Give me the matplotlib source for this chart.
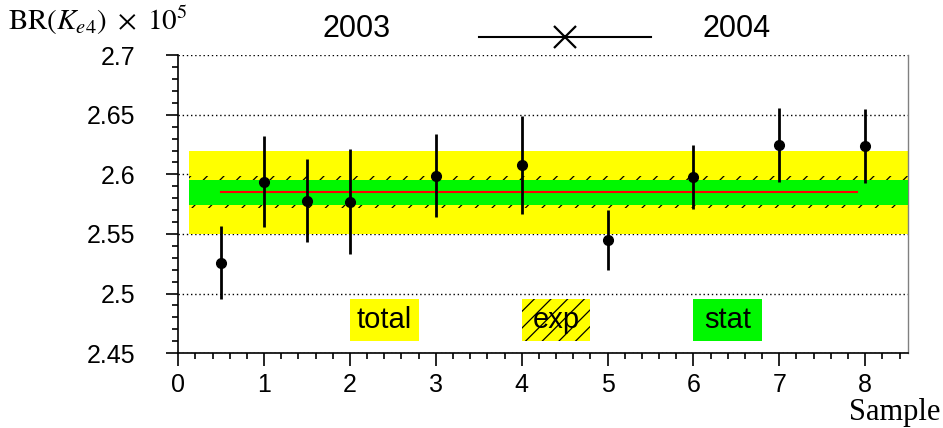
import matplotlib
matplotlib.use("Agg")
import matplotlib.pyplot as plt
from matplotlib.ticker import MultipleLocator

plt.rcParams["font.family"] = ["Liberation Sans", "DejaVu Sans"]
plt.rcParams["mathtext.fontset"] = "stix"
plt.rcParams["hatch.linewidth"] = 0.9

# measured branching ratio per sample (x 1e5) with total error
samples = [0.5, 1, 1.5, 2, 3, 4, 5, 6, 7, 8]
br = [2.526, 2.594, 2.578, 2.577, 2.599, 2.608, 2.545, 2.598, 2.625, 2.624]
br_err = [0.031, 0.038, 0.035, 0.044, 0.035, 0.041, 0.025, 0.027, 0.031, 0.031]

# combined result and its error bands
mean_br = 2.585
err_total = 0.035
err_exp = 0.0135
err_stat = 0.0105
band_x = [0.12, 8.5]
mean_x = [0.5, 7.9]

# little key boxes under the points
key_labels = ["total", "exp", "stat"]
key_x = [[2.0, 2.8], [4.0, 4.8], [6.0, 6.8]]
key_y = [2.46, 2.495]

fig = plt.figure(figsize=(9.43, 4.28), dpi=100)
ax = fig.add_axes([0.189, 0.175, 0.774, 0.696])

YELLOW = "#ffff00"
GREEN = "#00f800"

# error bands
ax.fill_between(band_x, mean_br - err_total, mean_br + err_total,
                color=YELLOW, lw=0, zorder=1)
ax.fill_between(band_x, mean_br - err_exp, mean_br + err_exp,
                facecolor="none", edgecolor="black", hatch="//", lw=0, zorder=2)
ax.fill_between(band_x, mean_br - err_stat, mean_br + err_stat,
                color=GREEN, lw=0, zorder=3)
ax.plot(mean_x, [mean_br, mean_br], color="red", lw=1.5, zorder=4)

# data points
ax.errorbar(samples, br, yerr=br_err, fmt="o", color="black", ms=7,
            elinewidth=2, capsize=0, zorder=5)

# key boxes
key_styles = [dict(color=YELLOW), dict(facecolor=YELLOW, edgecolor="black", hatch="//"),
              dict(color=GREEN)]
for lab, (x0, x1), style in zip(key_labels, key_x, key_styles):
    ax.fill_between([x0, x1], key_y[0], key_y[1], lw=0, zorder=3, **style)
    ax.text((x0 + x1) / 2, (key_y[0] + key_y[1]) / 2, lab, ha="center",
            va="center", fontsize=21, zorder=6)

# year markers above the frame
ax.text(2.08, 2.722, "2003", ha="center", va="center", fontsize=22, clip_on=False)
ax.text(6.5, 2.722, "2004", ha="center", va="center", fontsize=22, clip_on=False)
ax.plot([3.5, 5.5], [2.715, 2.715], color="black", lw=1.5, clip_on=False)
ax.plot([4.5], [2.715], marker="x", ms=16, mew=1.6, color="black", clip_on=False)

ax.set_xlim(0, 8.5)
ax.set_ylim(2.45, 2.7)
ax.xaxis.set_major_locator(MultipleLocator(1))
ax.xaxis.set_minor_locator(MultipleLocator(0.2))
ax.yaxis.set_minor_locator(MultipleLocator(0.01))
ax.set_yticks([2.45, 2.5, 2.55, 2.6, 2.65, 2.7])
ax.set_yticklabels(["2.45", "2.5", "2.55", "2.6", "2.65", "2.7"])

ax.yaxis.grid(True, linestyle=(0, (1, 2)), color="black", lw=1)
ax.set_axisbelow(True)

ax.tick_params(axis="both", which="major", labelsize=18, width=1.2)
ax.tick_params(axis="x", which="major", length=9, pad=5)
ax.tick_params(axis="x", which="minor", length=4.5, width=1.2)
ax.tick_params(axis="y", which="major", length=9, pad=22)
ax.tick_params(axis="y", which="minor", length=4.5, width=1.2)

ax.spines["top"].set_visible(False)
ax.spines["right"].set_color("gray")
ax.spines["right"].set_linewidth(1)
ax.spines["left"].set_linewidth(1.2)
ax.spines["bottom"].set_linewidth(1.2)

fig.text(0.008, 0.953, r"$\mathrm{BR}(K_{e4})\ \times\ 10^{5}$", ha="left",
         va="center", fontsize=21)
fig.text(0.997, 0.036, "Sample", ha="right", va="center", fontsize=22,
         family="Liberation Serif")

fig.savefig("out.png", dpi=100)
